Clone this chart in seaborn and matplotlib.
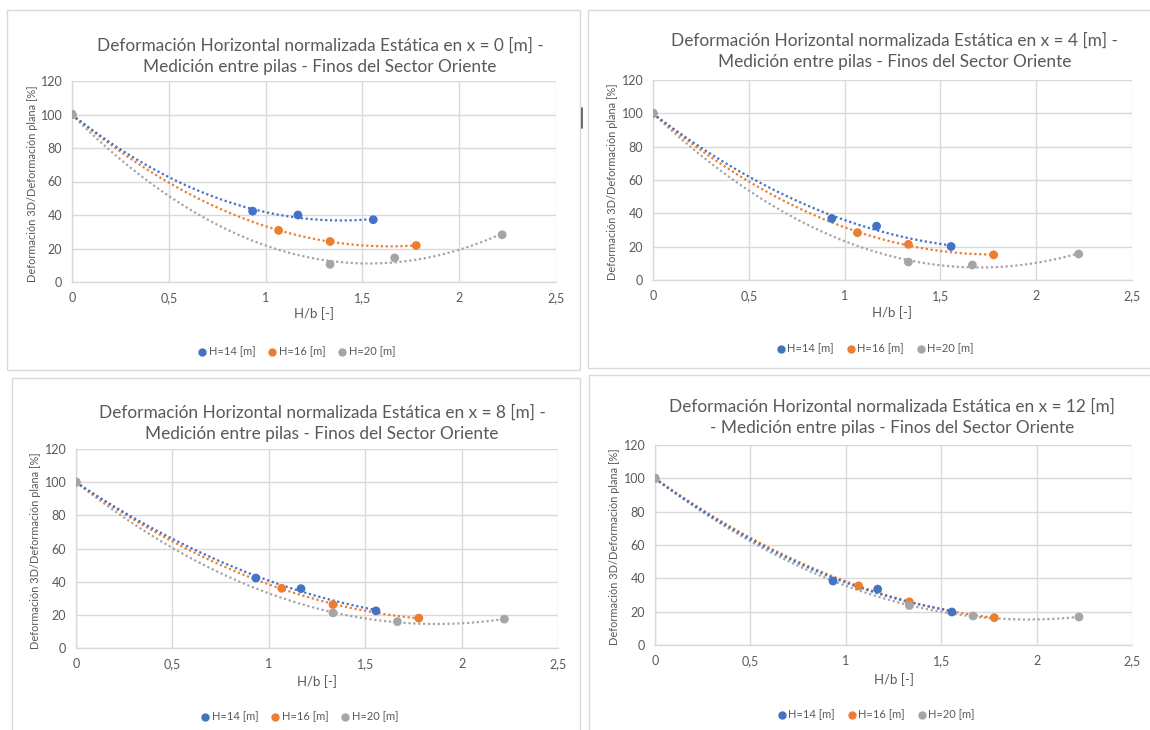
import numpy as np
import pandas as pd
import matplotlib
matplotlib.use("Agg")
import matplotlib.pyplot as plt
from matplotlib.lines import Line2D
from matplotlib.patches import Rectangle
import seaborn as sns

# H/b ratios for each wall height (b = 15, 12, 9 m), plus the origin point
hb_h14 = [0.0, 0.933, 1.167, 1.556]
hb_h16 = [0.0, 1.067, 1.333, 1.778]
hb_h20 = [0.0, 1.333, 1.667, 2.222]

# Normalized deformation [%] at x = 0 m
x0_h14 = [100, 42.3, 40.0, 37.2]
x0_h16 = [100, 30.8, 24.2, 21.8]
x0_h20 = [100, 10.5, 14.4, 28.2]
# x = 4 m
x4_h14 = [100, 36.9, 32.3, 20.1]
x4_h16 = [100, 28.4, 21.4, 15.1]
x4_h20 = [100, 10.8, 9.0, 15.6]
# x = 8 m
x8_h14 = [100, 42.2, 35.8, 22.4]
x8_h16 = [100, 36.0, 26.2, 18.0]
x8_h20 = [100, 21.2, 15.9, 17.4]
# x = 12 m
x12_h14 = [100, 38.4, 33.5, 19.8]
x12_h16 = [100, 35.5, 25.9, 16.4]
x12_h20 = [100, 23.7, 17.4, 16.8]

series_labels = ["H=14 [m]", "H=16 [m]", "H=20 [m]"]
x_ticks = [0, 0.5, 1, 1.5, 2, 2.5]
x_ticklabels = ["0", "0,5", "1", "1,5", "2", "2,5"]
y_ticks = [0, 20, 40, 60, 80, 100, 120]

titles = [
    "Deformación Horizontal normalizada Estática en x = 0 [m] -\nMedición entre pilas - Finos del Sector Oriente",
    "Deformación Horizontal normalizada Estática en x = 4 [m] -\nMedición entre pilas - Finos del Sector Oriente",
    "Deformación Horizontal normalizada Estática en x = 8 [m] -\nMedición entre pilas - Finos del Sector Oriente",
    "Deformación Horizontal normalizada Estática en x = 12 [m]\n- Medición entre pilas - Finos del Sector Oriente",
]
xlabel = "H/b [-]"
ylabel = "Deformación 3D/Deformación plana [%]"

panel_values = [
    (x0_h14, x0_h16, x0_h20),
    (x4_h14, x4_h16, x4_h20),
    (x8_h14, x8_h16, x8_h20),
    (x12_h14, x12_h16, x12_h20),
]
hb_all = (hb_h14, hb_h16, hb_h20)

colors = ["#4472C4", "#ED7D31", "#A5A5A5"]
palette = dict(zip(series_labels, colors))
TEXT = "#595959"
GRID = "#D9D9D9"

sns.set_theme(style="white")
plt.rcParams["font.family"] = ["Lato", "DejaVu Sans"]

W, H = 1150, 730
fig = plt.figure(figsize=(W / 100, H / 100), dpi=100)
fig.patch.set_facecolor("white")


def fx(px):
    return px / W


def fy(py):
    return 1 - py / H


# chart frames (pixel boxes: left, top, right, bottom)
frames = [(7, 10, 580, 370), (588, 10, 1160, 368), (12, 378, 580, 740), (589, 375, 1160, 740)]
for l, t, r, b in frames:
    fig.add_artist(Rectangle((fx(l), fy(b)), fx(r - l), (b - t) / H, transform=fig.transFigure,
                             fill=False, edgecolor="#D9D9D9", linewidth=1.0))

# plot areas (pixel boxes)
plot_boxes = [(72, 81, 556, 282), (653, 80, 1132, 280), (76, 449, 558, 648), (655, 445, 1132, 645)]
title_pos = [(320, 56), (895, 51), (322, 423), (892, 417)]
legend_y = [352, 349, 717, 715]
ylabel_x = [33, 612, 36, 615]
xlabel_y = [314, 313, 682, 680]

for i, (l, t, r, b) in enumerate(plot_boxes):
    ax = fig.add_axes([fx(l), fy(b), fx(r - l), (b - t) / H])
    rows = []
    for lab, hb, vals in zip(series_labels, hb_all, panel_values[i]):
        for xv, yv in zip(hb, vals):
            rows.append({"hb": xv, "val": yv, "serie": lab})
    df = pd.DataFrame(rows)

    # second-order polynomial trend lines, from 0 to the last point of each series
    trend_rows = []
    for lab, hb, vals in zip(series_labels, hb_all, panel_values[i]):
        coef = np.polyfit(hb, vals, 2)
        xs = np.linspace(0, max(hb), 120)
        for xv in xs:
            trend_rows.append({"hb": xv, "val": np.polyval(coef, xv), "serie": lab})
    tdf = pd.DataFrame(trend_rows)

    for lab in series_labels[::-1]:
        sub = tdf[tdf["serie"] == lab]
        ax.plot(sub["hb"], sub["val"], color=palette[lab], linestyle=(0, (1.0, 1.2)),
                linewidth=1.6, zorder=2)
    sns.scatterplot(data=df, x="hb", y="val", hue="serie", hue_order=series_labels,
                    palette=palette, s=40, edgecolor="none", legend=False, ax=ax, zorder=3)

    ax.set_xlim(0, 2.5)
    ax.set_ylim(0, 120)
    ax.set_xticks(x_ticks)
    ax.set_xticklabels(x_ticklabels)
    ax.set_yticks(y_ticks)
    ax.grid(True, color=GRID, linewidth=1.0)
    ax.set_axisbelow(True)
    for side in ["top", "right"]:
        ax.spines[side].set_visible(False)
    for side in ["left", "bottom"]:
        ax.spines[side].set_color(GRID)
        ax.spines[side].set_linewidth(1.0)
    ax.tick_params(axis="both", length=0, labelsize=9, labelcolor=TEXT, pad=7)
    ax.set_xlabel("")
    ax.set_ylabel("")

    fig.text(fx((l + r) / 2), fy(xlabel_y[i]), xlabel, ha="center", va="center",
             fontsize=9.5, color=TEXT)
    fig.text(fx(ylabel_x[i]), fy((t + b) / 2 + 2), ylabel, ha="center", va="center",
             rotation=90, fontsize=7.9, color=TEXT)
    tx, ty = title_pos[i]
    fig.text(fx(tx), fy(ty), titles[i], ha="center", va="center", fontsize=12.4,
             color=TEXT, linespacing=1.4)

    handles = [Line2D([], [], marker="o", linestyle="none", markersize=5,
                      markerfacecolor=c, markeredgecolor=c) for c in colors]
    fig.legend(handles, series_labels, loc="center", ncol=3, frameon=False,
               bbox_to_anchor=(fx((l + r) / 2 - 18), fy(legend_y[i])),
               fontsize=8, labelcolor=TEXT, handletextpad=0.1, columnspacing=1.0,
               handlelength=1.0, borderaxespad=0)

# stray text cursor between the top charts
fig.add_artist(Line2D([fx(582), fx(582)], [fy(108), fy(128)], transform=fig.transFigure,
                      color="#505050", linewidth=1.2))

fig.savefig("out.png", dpi=100, facecolor="white")
